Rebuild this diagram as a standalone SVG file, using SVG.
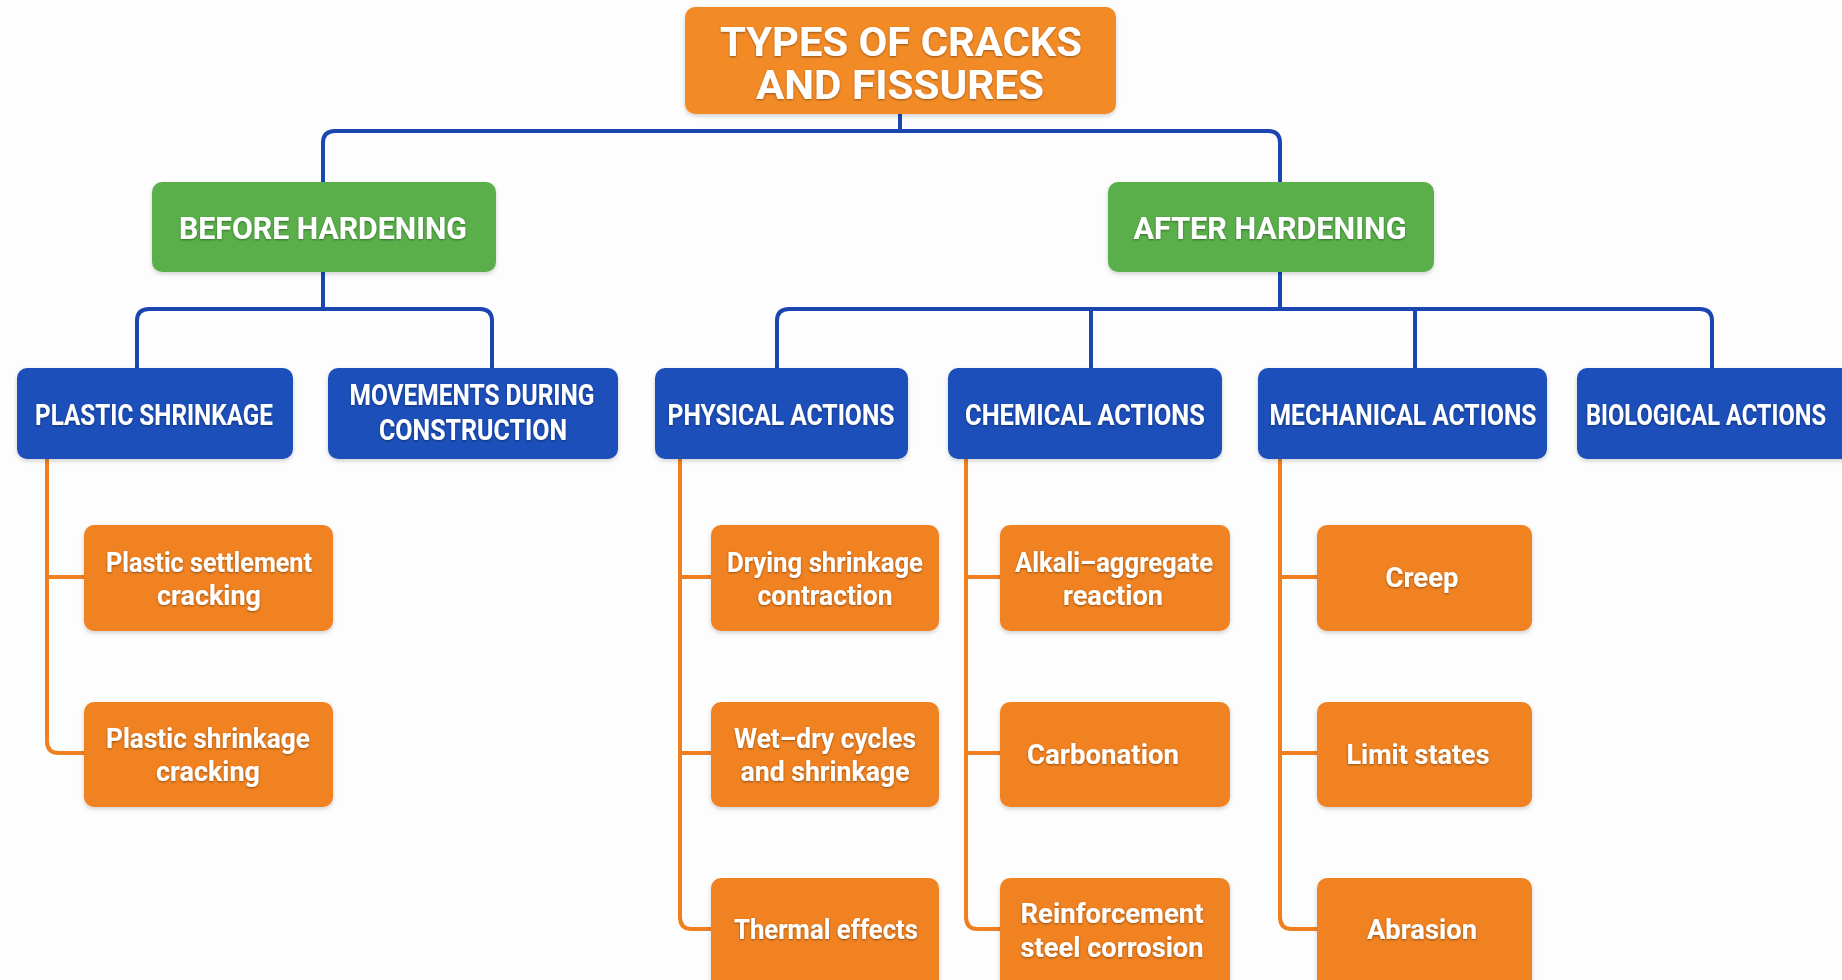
<svg xmlns="http://www.w3.org/2000/svg" width="1842" height="980" viewBox="0 0 1842 980">
<defs>
<filter id="ts" x="-10%" y="-30%" width="120%" height="160%">
<feDropShadow dx="0" dy="1" stdDeviation="1" flood-color="#000" flood-opacity="0.4"/>
</filter>
<filter id="bs" x="-5%" y="-10%" width="110%" height="125%">
<feDropShadow dx="0" dy="2" stdDeviation="2" flood-color="#000" flood-opacity="0.18"/>
</filter>
</defs>
<style>
text{font-family:Roboto,"Liberation Sans",Arial,sans-serif;font-weight:700;fill:#fff;text-anchor:middle;filter:url(#ts)}
.t{font-size:41px}
.g{font-size:32px}
.b{font-size:29px}
.o{font-size:28px}
.title{fill:#F28A26}
.green{fill:#5AAF4B}
.blue{fill:#1F4FBA}
.orange{fill:#F08224}
rect{filter:url(#bs)}
.cb{fill:none;stroke:#1B46B2;stroke-width:4;stroke-linecap:round;stroke-linejoin:round}
.co{fill:none;stroke:#F07F20;stroke-width:4;stroke-linecap:round;stroke-linejoin:round}
</style>
<rect x="0" y="0" width="1842" height="980" fill="#FDFDFD" style="filter:none"/>
<g id="connectors">
<path class="cb" d="M900,114 V131"/>
<path class="cb" d="M323,182 V143 Q323,131 335,131 H1268 Q1280,131 1280,143 V182"/>
<path class="cb" d="M323,272 V309"/>
<path class="cb" d="M137,368 V321 Q137,309 149,309 H480 Q492,309 492,321 V368"/>
<path class="cb" d="M1280,272 V309"/>
<path class="cb" d="M777,368 V321 Q777,309 789,309 H1700 Q1712,309 1712,321 V368"/>
<path class="cb" d="M1091,309 V368"/>
<path class="cb" d="M1415,309 V368"/>
<path class="co" d="M47,459 V741 Q47,753 59,753 H84 M47,577 H84"/>
<path class="co" d="M680,459 V917 Q680,929 692,929 H711 M680,577 H711 M680,753 H711"/>
<path class="co" d="M966,459 V917 Q966,929 978,929 H1000 M966,577 H1000 M966,753 H1000"/>
<path class="co" d="M1280,459 V917 Q1280,929 1292,929 H1317 M1280,577 H1317 M1280,753 H1317"/>
</g>
<g id="root">
<rect class="title" x="685" y="7" width="431" height="107" rx="10"/>
<text class="t" x="901" y="56" textLength="362" lengthAdjust="spacingAndGlyphs">TYPES OF CRACKS</text>
<text class="t" x="900" y="99" textLength="288" lengthAdjust="spacingAndGlyphs">AND FISSURES</text>
</g>
<g id="before-hardening">
<rect class="green" x="152" y="182" width="344" height="90" rx="10"/>
<text class="g" x="323" y="239" textLength="288" lengthAdjust="spacingAndGlyphs">BEFORE HARDENING</text>
</g>
<g id="after-hardening">
<rect class="green" x="1108" y="182" width="326" height="90" rx="10"/>
<text class="g" x="1270" y="239" textLength="273" lengthAdjust="spacingAndGlyphs">AFTER HARDENING</text>
</g>
<g id="plastic-shrinkage">
<rect class="blue" x="17" y="368" width="276" height="91" rx="10"/>
<text class="b" x="154" y="425" textLength="238" lengthAdjust="spacingAndGlyphs">PLASTIC SHRINKAGE</text>
</g>
<g id="movements-during-construction">
<rect class="blue" x="328" y="368" width="290" height="91" rx="10"/>
<text class="b" x="472" y="405" textLength="245" lengthAdjust="spacingAndGlyphs">MOVEMENTS DURING</text>
<text class="b" x="473" y="440" textLength="188" lengthAdjust="spacingAndGlyphs">CONSTRUCTION</text>
</g>
<g id="physical-actions">
<rect class="blue" x="655" y="368" width="253" height="91" rx="10"/>
<text class="b" x="781" y="425" textLength="227" lengthAdjust="spacingAndGlyphs">PHYSICAL ACTIONS</text>
</g>
<g id="chemical-actions">
<rect class="blue" x="948" y="368" width="274" height="91" rx="10"/>
<text class="b" x="1085" y="425" textLength="240" lengthAdjust="spacingAndGlyphs">CHEMICAL ACTIONS</text>
</g>
<g id="mechanical-actions">
<rect class="blue" x="1258" y="368" width="289" height="91" rx="10"/>
<text class="b" x="1403" y="425" textLength="267" lengthAdjust="spacingAndGlyphs">MECHANICAL ACTIONS</text>
</g>
<g id="biological-actions">
<rect class="blue" x="1577" y="368" width="280" height="91" rx="10"/>
<text class="b" x="1706" y="425" textLength="240" lengthAdjust="spacingAndGlyphs">BIOLOGICAL ACTIONS</text>
</g>
<g id="plastic-settlement-cracking">
<rect class="orange" x="84" y="525" width="249" height="106" rx="10"/>
<text class="o" x="209" y="572" textLength="206" lengthAdjust="spacingAndGlyphs">Plastic settlement</text>
<text class="o" x="209" y="605" textLength="104" lengthAdjust="spacingAndGlyphs">cracking</text>
</g>
<g id="plastic-shrinkage-cracking">
<rect class="orange" x="84" y="702" width="249" height="105" rx="10"/>
<text class="o" x="208" y="748" textLength="204" lengthAdjust="spacingAndGlyphs">Plastic shrinkage</text>
<text class="o" x="208" y="781" textLength="104" lengthAdjust="spacingAndGlyphs">cracking</text>
</g>
<g id="drying-shrinkage-contraction">
<rect class="orange" x="711" y="525" width="228" height="106" rx="10"/>
<text class="o" x="825" y="572" textLength="196" lengthAdjust="spacingAndGlyphs">Drying shrinkage</text>
<text class="o" x="825" y="605" textLength="135" lengthAdjust="spacingAndGlyphs">contraction</text>
</g>
<g id="wet-dry-cycles">
<rect class="orange" x="711" y="702" width="228" height="105" rx="10"/>
<text class="o" x="825" y="748" textLength="182" lengthAdjust="spacingAndGlyphs">Wet–dry cycles</text>
<text class="o" x="825" y="781" textLength="169" lengthAdjust="spacingAndGlyphs">and shrinkage</text>
</g>
<g id="thermal-effects">
<rect class="orange" x="711" y="878" width="228" height="120" rx="10"/>
<text class="o" x="826" y="939" textLength="184" lengthAdjust="spacingAndGlyphs">Thermal effects</text>
</g>
<g id="alkali-aggregate-reaction">
<rect class="orange" x="1000" y="525" width="230" height="106" rx="10"/>
<text class="o" x="1114" y="572" textLength="198" lengthAdjust="spacingAndGlyphs">Alkali–aggregate</text>
<text class="o" x="1113" y="605" textLength="100" lengthAdjust="spacingAndGlyphs">reaction</text>
</g>
<g id="carbonation">
<rect class="orange" x="1000" y="702" width="230" height="105" rx="10"/>
<text class="o" x="1103" y="764" textLength="152" lengthAdjust="spacingAndGlyphs">Carbonation</text>
</g>
<g id="reinforcement-steel-corrosion">
<rect class="orange" x="1000" y="878" width="230" height="120" rx="10"/>
<text class="o" x="1112" y="923" textLength="183" lengthAdjust="spacingAndGlyphs">Reinforcement</text>
<text class="o" x="1112" y="957" textLength="183" lengthAdjust="spacingAndGlyphs">steel corrosion</text>
</g>
<g id="creep">
<rect class="orange" x="1317" y="525" width="215" height="106" rx="10"/>
<text class="o" x="1422" y="587" textLength="73" lengthAdjust="spacingAndGlyphs">Creep</text>
</g>
<g id="limit-states">
<rect class="orange" x="1317" y="702" width="215" height="105" rx="10"/>
<text class="o" x="1418" y="764" textLength="143" lengthAdjust="spacingAndGlyphs">Limit states</text>
</g>
<g id="abrasion">
<rect class="orange" x="1317" y="878" width="215" height="120" rx="10"/>
<text class="o" x="1422" y="939" textLength="110" lengthAdjust="spacingAndGlyphs">Abrasion</text>
</g>
</svg>
